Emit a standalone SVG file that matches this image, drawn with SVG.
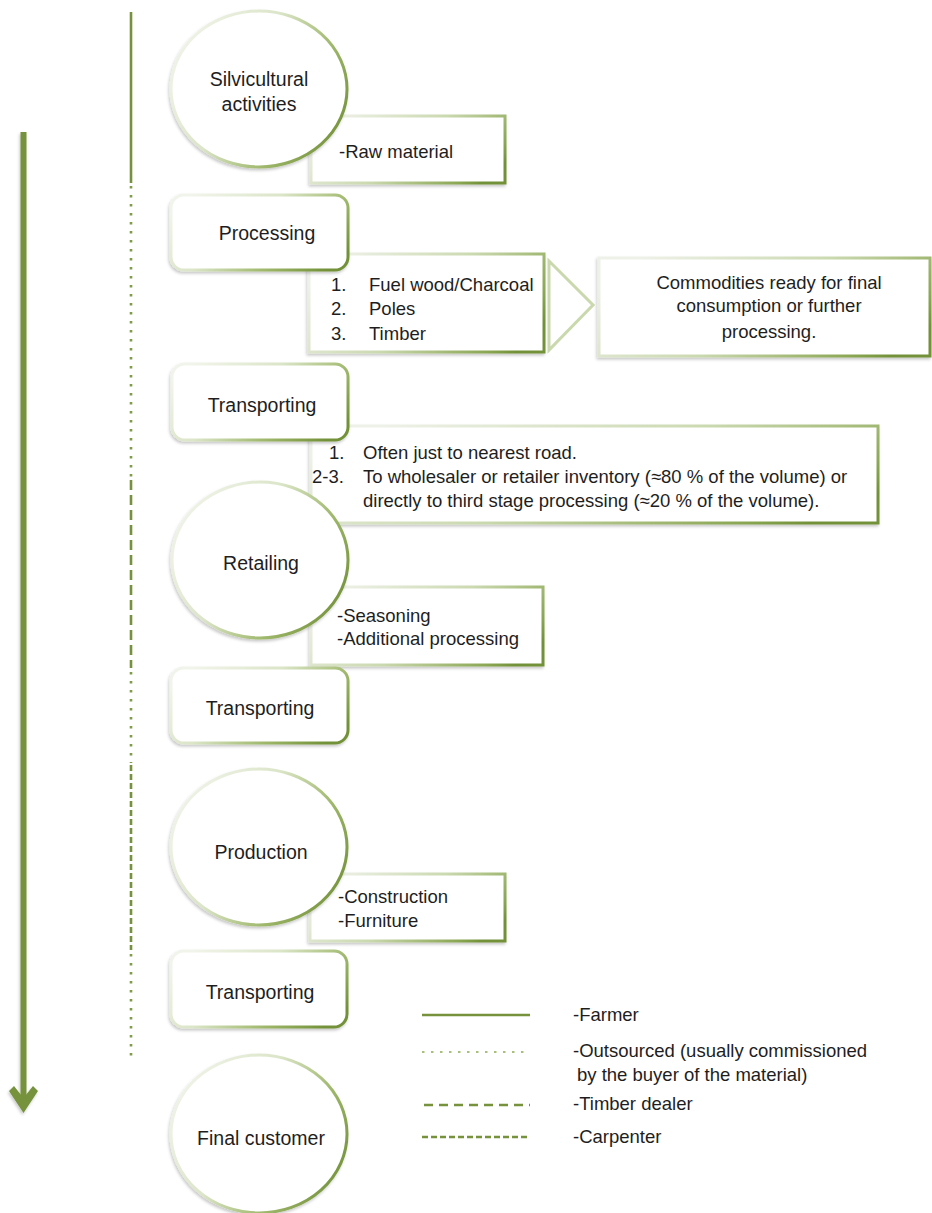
<svg xmlns="http://www.w3.org/2000/svg" width="932" height="1213" viewBox="0 0 932 1213">
<defs>
<linearGradient id="gNode" x1="0" y1="0.25" x2="1" y2="0.75">
<stop offset="0" stop-color="#f1f4ea"/>
<stop offset="0.4" stop-color="#dbe5c8"/>
<stop offset="0.72" stop-color="#9fb86c"/>
<stop offset="1" stop-color="#739139"/>
</linearGradient>
<linearGradient id="gBox" x1="0" y1="0.3" x2="1" y2="0.7">
<stop offset="0" stop-color="#eef1e8"/>
<stop offset="0.5" stop-color="#cbd9b0"/>
<stop offset="0.9" stop-color="#8aa653"/>
<stop offset="1" stop-color="#739139"/>
</linearGradient>
<filter id="sh" x="-10%" y="-10%" width="120%" height="125%">
<feDropShadow dx="-1" dy="2" stdDeviation="1.5" flood-color="#000" flood-opacity="0.22"/>
</filter>
<style>
.node{fill:#fff;stroke:url(#gNode);stroke-width:3;filter:url(#sh)}
.box{fill:#fff;stroke:url(#gBox);stroke-width:3;filter:url(#sh)}
.lbl{font-family:"Liberation Sans",Arial,sans-serif;font-size:19.5px;fill:#1e1e1e;text-anchor:middle}
.txt{font-family:"Liberation Sans",Arial,sans-serif;font-size:18.5px;fill:#1e1e1e}
.ctr{text-anchor:middle}
.ln{fill:none;stroke:#76923c;stroke-width:2.6}
.dot{stroke-dasharray:2.5 6.5;stroke-width:2.6;stroke:#7f9c48}
.dash{stroke-dasharray:10 5}
.fine{stroke-dasharray:6 3}
</style>
</defs>
<rect width="932" height="1213" fill="#fff"/>

<g id="connectors">
<line class="ln" x1="131" y1="12" x2="131" y2="183"/>
<line class="ln dot" x1="131" y1="186" x2="131" y2="478"/>
<line class="ln dash" x1="131" y1="480" x2="131" y2="668"/>
<line class="ln dot" x1="131" y1="672" x2="131" y2="763"/>
<line class="ln fine" x1="131" y1="765" x2="131" y2="950"/>
<line class="ln dot" x1="131" y1="954" x2="131" y2="1056"/>
<g id="flow-arrow" filter="url(#sh)">
<rect x="20.5" y="132" width="6" height="968" fill="#76923c"/>
<polygon points="9,1091 14,1086 23.5,1098 33,1086 38,1091 23.5,1113" fill="#76923c"/>
</g>
<polygon id="chevron" points="549,261 593,305 549,350" fill="#fff" stroke="#c9d9ad" stroke-width="3" stroke-linejoin="miter"/>
</g>

<g id="box-raw-material">
<rect class="box" x="311" y="116" width="194" height="67"/>
<text class="txt" x="339" y="158">-Raw material</text>
</g>
<g id="box-products">
<rect class="box" x="309" y="254" width="235" height="98"/>
<text class="txt" x="331" y="291">1.</text><text class="txt" x="369" y="291">Fuel wood/Charcoal</text>
<text class="txt" x="331" y="315">2.</text><text class="txt" x="369" y="315">Poles</text>
<text class="txt" x="331" y="340">3.</text><text class="txt" x="369" y="340">Timber</text>
</g>
<g id="box-commodities">
<rect class="box" x="599" y="258" width="331" height="98"/>
<text class="txt ctr" x="769" y="289">Commodities ready for final</text>
<text class="txt ctr" x="769" y="312">consumption or further</text>
<text class="txt ctr" x="769" y="338">processing.</text>
</g>
<g id="box-transport-notes">
<rect class="box" x="311" y="426" width="567" height="97"/>
<text class="txt" x="329" y="459">1.</text><text class="txt" x="363" y="459">Often just to nearest road.</text>
<text class="txt" x="312" y="483">2-3.</text><text class="txt" x="363" y="483">To wholesaler or retailer inventory (≈80 % of the volume) or</text>
<text class="txt" x="363" y="507">directly to third stage processing (≈20 % of the volume).</text>
</g>
<g id="box-retail-notes">
<rect class="box" x="311" y="587" width="232" height="78"/>
<text class="txt" x="337" y="622">-Seasoning</text>
<text class="txt" x="337" y="645">-Additional processing</text>
</g>
<g id="box-production-notes">
<rect class="box" x="310" y="874" width="195" height="67"/>
<text class="txt" x="338" y="903">-Construction</text>
<text class="txt" x="338" y="927">-Furniture</text>
</g>

<g id="node-silvicultural">
<ellipse class="node" cx="259" cy="89" rx="88" ry="78"/>
<text class="lbl" x="259" y="86">Silvicultural</text>
<text class="lbl" x="259" y="111">activities</text>
</g>
<g id="node-processing">
<rect class="node" x="171" y="195" width="177" height="75" rx="13"/>
<text class="lbl" x="267" y="240">Processing</text>
</g>
<g id="node-transporting-1">
<rect class="node" x="172" y="364" width="176" height="76" rx="13"/>
<text class="lbl" x="262" y="412">Transporting</text>
</g>
<g id="node-retailing">
<ellipse class="node" cx="260" cy="560" rx="88" ry="78"/>
<text class="lbl" x="261" y="570">Retailing</text>
</g>
<g id="node-transporting-2">
<rect class="node" x="171" y="668" width="177" height="75" rx="13"/>
<text class="lbl" x="260" y="715">Transporting</text>
</g>
<g id="node-production">
<ellipse class="node" cx="259" cy="847" rx="88" ry="78"/>
<text class="lbl" x="261" y="859">Production</text>
</g>
<g id="node-transporting-3">
<rect class="node" x="171" y="951" width="176" height="76" rx="13"/>
<text class="lbl" x="260" y="999">Transporting</text>
</g>
<g id="node-final-customer">
<ellipse class="node" cx="259" cy="1134" rx="88" ry="79"/>
<text class="lbl" x="261" y="1145">Final customer</text>
</g>

<g id="legend">
<line class="ln" x1="422" y1="1015" x2="530" y2="1015"/>
<line class="ln dot" x1="422" y1="1052" x2="530" y2="1052" style="stroke-width:2;stroke:#a9c07c"/>
<line class="ln dash" x1="424" y1="1105" x2="530" y2="1105" style="stroke-dasharray:9 6"/>
<line class="ln fine" x1="422" y1="1137" x2="530" y2="1137"/>
<text class="txt" x="573" y="1021">-Farmer</text>
<text class="txt" x="573" y="1057">-Outsourced (usually commissioned</text>
<text class="txt" x="577" y="1081">by the buyer of the material)</text>
<text class="txt" x="573" y="1110">-Timber dealer</text>
<text class="txt" x="573" y="1143">-Carpenter</text>
</g>
</svg>
